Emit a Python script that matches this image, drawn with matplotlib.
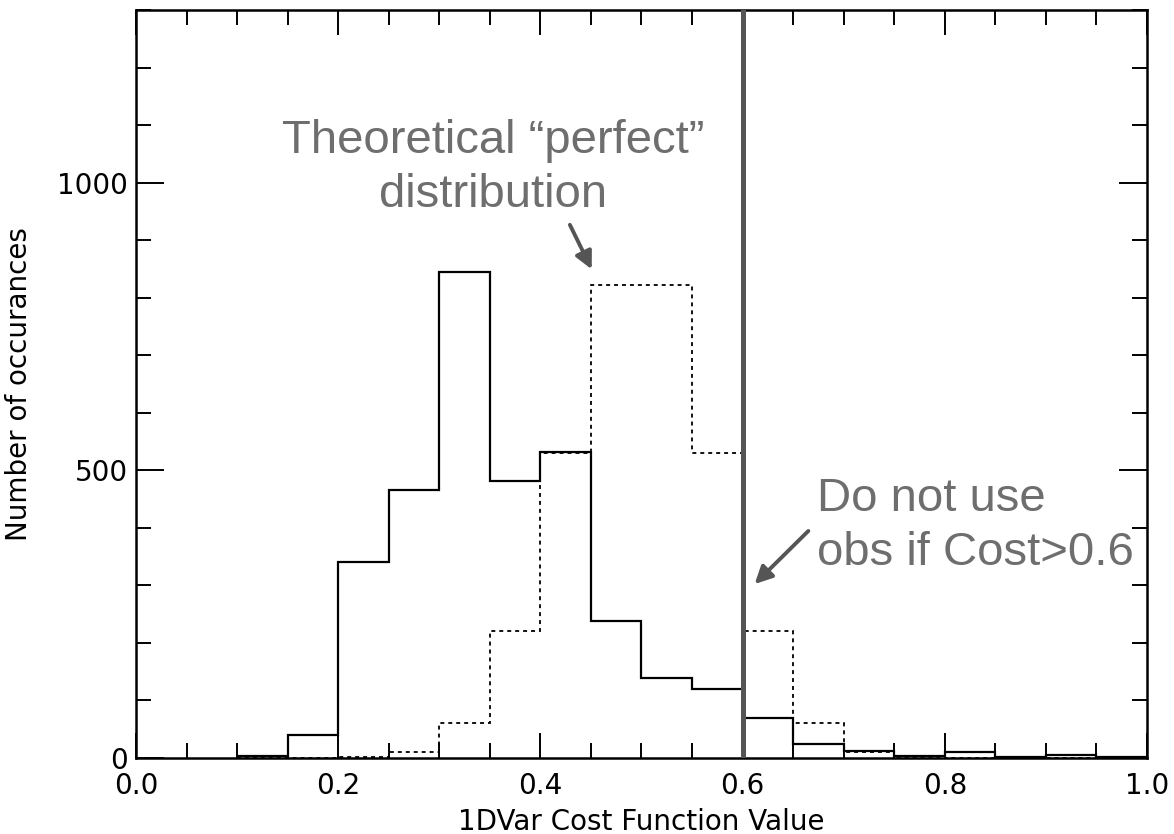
import matplotlib
matplotlib.use("Agg")
import matplotlib.pyplot as plt
from matplotlib.ticker import MultipleLocator, FormatStrFormatter

# Bin edges (cost function value)
bin_edges = [0.10, 0.15, 0.20, 0.25, 0.30, 0.35, 0.40, 0.45, 0.50, 0.55, 0.60,
             0.65, 0.70, 0.75, 0.80, 0.85, 0.90, 0.95, 1.00]
# Observed counts per bin
observed = [3, 40, 340, 465, 845, 481, 531, 239, 139, 120,
            70, 25, 13, 3, 10, 1, 5, 1]
# Theoretical "perfect" distribution counts per bin
theoretical = [0, 0, 2, 10, 60, 220, 530, 822, 822, 530,
               220, 60, 10, 2, 0, 0, 0, 0]

threshold = 0.6

fig = plt.figure(figsize=(11.74, 8.34), dpi=100)
ax = fig.add_axes([0.1158, 0.0911, 0.8612, 0.8969])

ax.stairs(theoretical, bin_edges, color="black", lw=1.3, linestyle=(0, (2.2, 2.2)),
          baseline=None)
ax.stairs(observed, bin_edges, color="black", lw=1.6, baseline=None)
ax.axvline(threshold, color="#555555", lw=3.6, zorder=5)

ax.set_xlim(0.0, 1.0)
ax.set_ylim(0, 1300)

ax.xaxis.set_major_locator(MultipleLocator(0.2))
ax.xaxis.set_minor_locator(MultipleLocator(0.05))
ax.yaxis.set_major_locator(MultipleLocator(500))
ax.yaxis.set_minor_locator(MultipleLocator(100))
ax.xaxis.set_major_formatter(FormatStrFormatter("%.1f"))

ax.tick_params(which="both", direction="in", top=True, right=True,
               width=1.4, labelsize=20, colors="black")
ax.tick_params(axis="x", which="major", length=18, pad=10)
ax.tick_params(axis="x", which="minor", length=11)
ax.tick_params(axis="y", which="major", length=20, pad=6)
ax.tick_params(axis="y", which="minor", length=11)
for s in ax.spines.values():
    s.set_linewidth(1.8)

ax.set_xlabel("1DVar Cost Function Value", fontsize=20, labelpad=6)
ax.set_ylabel("Number of occurances", fontsize=20, labelpad=17)

gray = "#6e6e6e"
ax.text(0.353, 958, "Theoretical \u201cperfect\u201d\ndistribution", fontsize=34,
        color=gray, ha="center", va="baseline", family="Liberation Sans",
        linespacing=1.3)
ax.annotate("", xy=(0.452, 845), xytext=(0.428, 931),
            arrowprops=dict(arrowstyle="-|>", color="#555555", lw=2.8,
                            mutation_scale=26))

ax.text(0.674, 335, "Do not use\nobs if Cost>0.6", fontsize=34, color=gray,
        ha="left", va="baseline", family="Liberation Sans", linespacing=1.3)
ax.annotate("", xy=(0.610, 299), xytext=(0.667, 398),
            arrowprops=dict(arrowstyle="-|>", color="#555555", lw=2.8,
                            mutation_scale=26))

fig.savefig("out.png", dpi=100)
